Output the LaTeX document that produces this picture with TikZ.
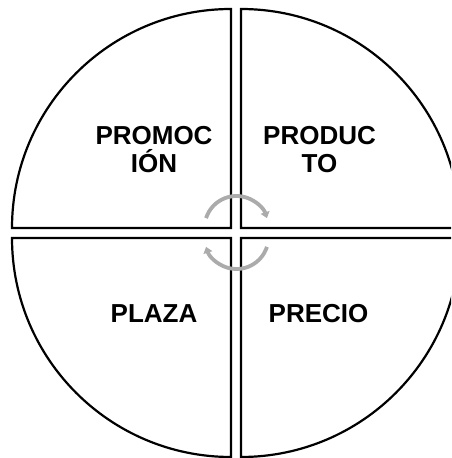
\documentclass[tikz,border=0pt]{standalone}
\usepackage{fontspec}
\setmainfont{Liberation Sans}
\usetikzlibrary{arrows.meta}
\begin{document}
\begin{tikzpicture}[x=1pt,y=1pt,
  sector/.style={draw=black,line width=2.2pt,fill=white,line join=miter},
  cyc/.style={draw=black!33,line width=3.8pt,-{Triangle[width=9pt,length=6pt]}},
  lbl/.style={font=\fontsize{26}{28}\selectfont\bfseries,align=center,inner sep=0pt,anchor=base}]
\useasboundingbox (0,0) rectangle (451,458);
\clip (0,0) rectangle (451,458);
\coordinate (tl) at (231,230);
\coordinate (tr) at (241,230);
\coordinate (bl) at (231,220);
\coordinate (br) at (241,220);
\draw[sector] (tl) -- ++(-219,0) arc[start angle=180,end angle=90,radius=219] -- cycle;
\draw[sector] (tr) -- ++(219,0) arc[start angle=0,end angle=90,radius=219] -- cycle;
\draw[sector] (bl) -- ++(-219,0) arc[start angle=180,end angle=270,radius=219] -- cycle;
\draw[sector] (br) -- ++(219,0) arc[start angle=0,end angle=-90,radius=219] -- cycle;
\coordinate (c1) at (236.5,230);
\coordinate (c2) at (236.5,221);
\draw[cyc] ([shift={(162:32)}]c1) arc[start angle=162,end angle=18,radius=32];
\draw[cyc] ([shift={(-18:32)}]c2) arc[start angle=-18,end angle=-162,radius=32];
\node[lbl] (promo) at (154,285) {PROMOC\\IÓN};
\node[lbl] (produ) at (319.5,285) {PRODUC\\TO};
\node[lbl] (plaza) at (154,135) {PLAZA};
\node[lbl] (precio) at (318.5,135) {PRECIO};
\end{tikzpicture}
\end{document}
